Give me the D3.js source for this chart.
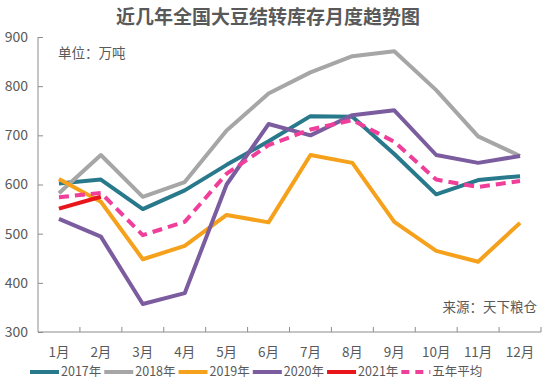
<!DOCTYPE html>
<html>
<head>
<meta charset="utf-8">
<script src="https://cdn.jsdelivr.net/npm/d3@7"></script>
<style>
body { margin: 0; background: #fff; }
text { font-family: "Noto Sans CJK SC", "Noto Sans", sans-serif; }
</style>
</head>
<body>
<div id="c"></div>
<script>
var months = ["1月","2月","3月","4月","5月","6月","7月","8月","9月","10月","11月","12月"];
var y_ticks = [300, 400, 500, 600, 700, 800, 900];

var v2017 = [602, 610, 550, 588, 640, 688, 739, 738, 662, 580, 609, 617];
var v2018 = [582, 660, 575, 605, 710, 785, 828, 861, 871, 792, 698, 658];
var v2019 = [611, 565, 448, 475, 538, 523, 660, 644, 524, 465, 443, 522];
var v2020 = [530, 494, 357, 379, 600, 723, 700, 741, 751, 660, 644, 658];
var v2021 = [551, 575];
var vavg = [574, 583, 497, 524, 622, 680, 712, 731, 687, 610, 595, 607];

var series = [
	{name: "2017年", values: v2017, color: "#28798b", dash: null},
	{name: "2018年", values: v2018, color: "#a6a6a6", dash: null},
	{name: "2019年", values: v2019, color: "#f5a11c", dash: null},
	{name: "2020年", values: v2020, color: "#7b5c9f", dash: null},
	{name: "2021年", values: v2021, color: "#e8151b", dash: null},
	{name: "五年平均", values: vavg, color: "#ef3f9b", dash: "10,6"}
];

var width = 550;
var height = 380;

var svg = d3.select("#c").append("svg")
	.attr("width", width)
	.attr("height", height);

var x_scale = d3.scaleBand()
	.domain(months)
	.range([38, 541]);

var y_scale = d3.scaleLinear()
	.domain([300, 900])
	.range([332, 37]);

// title
svg.append("text")
	.attr("x", 268)
	.attr("y", 24)
	.attr("text-anchor", "middle")
	.attr("font-size", "19px")
	.attr("font-weight", "bold")
	.attr("fill", "#595959")
	.text("近几年全国大豆结转库存月度趋势图");

// y axis
var y_axis = svg.append("g")
	.attr("transform", "translate(38,0)")
	.call(d3.axisRight(y_scale).tickValues(y_ticks).tickSize(5).tickFormat(""));
y_axis.selectAll("line, path").attr("stroke", "#8c8c8c");
y_axis.select(".domain").attr("d", "M0,37V332");

svg.append("g")
	.selectAll("text")
	.data(y_ticks)
	.enter()
	.append("text")
	.attr("x", 28)
	.attr("y", function(d) { return y_scale(d); })
	.attr("dy", "0.35em")
	.attr("text-anchor", "end")
	.attr("font-size", "14px")
	.attr("fill", "#595959")
	.text(function(d) { return d; });

// x axis
var x_axis = svg.append("g")
	.attr("transform", "translate(0,332)");
x_axis.append("line")
	.attr("x1", 38).attr("x2", 541)
	.attr("stroke", "#8c8c8c");
x_axis.selectAll(".tk")
	.data(months)
	.enter()
	.append("line")
	.attr("class", "tk")
	.attr("x1", function(d) { return x_scale(d) + x_scale.bandwidth(); })
	.attr("x2", function(d) { return x_scale(d) + x_scale.bandwidth(); })
	.attr("y1", 0).attr("y2", -5)
	.attr("stroke", "#8c8c8c");
x_axis.selectAll("text")
	.data(months)
	.enter()
	.append("text")
	.attr("x", function(d) { return x_scale(d) + x_scale.bandwidth() / 2; })
	.attr("y", 20)
	.attr("dy", "0.35em")
	.attr("text-anchor", "middle")
	.attr("font-size", "13.5px")
	.attr("fill", "#595959")
	.text(function(d) { return d; });

// notes
svg.append("text")
	.attr("x", 58).attr("y", 58)
	.attr("font-size", "13.5px")
	.attr("fill", "#595959")
	.text("单位：万吨");

svg.append("text")
	.attr("x", 537).attr("y", 312)
	.attr("text-anchor", "end")
	.attr("font-size", "13.5px")
	.attr("fill", "#595959")
	.text("来源：天下粮仓");

// lines
var line = d3.line()
	.x(function(d, i) { return x_scale(months[i]) + x_scale.bandwidth() / 2; })
	.y(function(d) { return y_scale(d); });

svg.append("g")
	.selectAll("path")
	.data(series)
	.enter()
	.append("path")
	.attr("d", function(d) { return line(d.values); })
	.attr("fill", "none")
	.attr("stroke", function(d) { return d.color; })
	.attr("stroke-width", 4)
	.attr("stroke-linejoin", "round")
	.attr("stroke-dasharray", function(d) { return d.dash; });

// legend
var legend = svg.append("g").attr("transform", "translate(0,372)");
var lx = 30;
series.forEach(function(s) {
	legend.append("line")
		.attr("x1", lx).attr("x2", lx + 29)
		.attr("stroke", s.color)
		.attr("stroke-width", 4)
		.attr("stroke-dasharray", s.dash ? "8,6" : null);
	var t = legend.append("text")
		.attr("x", lx + 31)
		.attr("dy", "0.35em")
		.attr("font-size", "12.5px")
		.attr("fill", "#595959")
		.text(s.name);
	lx += 31 + t.node().getComputedTextLength() + 3;
});
</script>
</body>
</html>
